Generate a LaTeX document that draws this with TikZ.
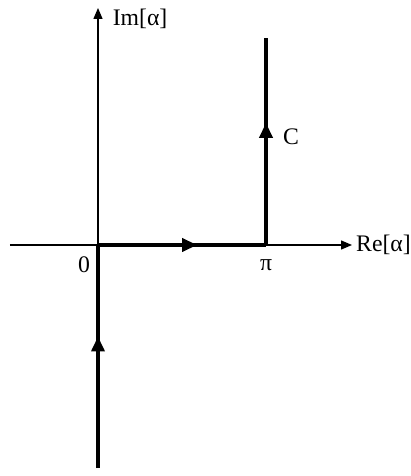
\documentclass[tikz,border=0pt]{standalone}
\usepackage{fontspec}
\setmainfont{Liberation Serif}
\usetikzlibrary{arrows.meta, positioning, decorations.markings}

\begin{document}
\begin{tikzpicture}[x=0.02cm, y=0.02cm, >=Stealth,
    axis/.style={line width=0.8pt, -{Triangle[length=2.2mm, width=1.8mm]}},
    contour/.style={line width=2pt, postaction={decorate},
      decoration={markings, mark=at position 0.59 with
        {\arrow{Triangle[length=3mm, width=2.6mm]}}}},
    lbl/.style={font=\fontsize{13.5}{16}\selectfont, inner sep=1pt}]
  \useasboundingbox (-98,-231) rectangle (312,245);
  % Points
  \coordinate (O) at (0,0);
  \coordinate (xmin) at (-88,0);
  \coordinate (xmax) at (254,0);
  \coordinate (ymax) at (0,237);
  \coordinate (start) at (0,-223);
  \coordinate (P) at (168,0);
  \coordinate (end) at (168,207);
  % Axes
  \draw[axis] (xmin) -- (xmax) node[lbl, right=1pt] (re) {Re[α]};
  \draw[axis] (O) -- (ymax) node[lbl, anchor=west, xshift=7pt, yshift=-6pt] (im) {Im[α]};
  % Contour C
  \draw[contour] (start) -- (O);
  \draw[contour] (O) -- (P);
  \draw[contour] (P) -- (end);
  % Labels
  \node[lbl] (zero) at (-14,-20) {0};
  \node[lbl] (pi) at (168,-20) {π};
  \node[lbl] (c) at (193,108) {C};
\end{tikzpicture}
\end{document}
